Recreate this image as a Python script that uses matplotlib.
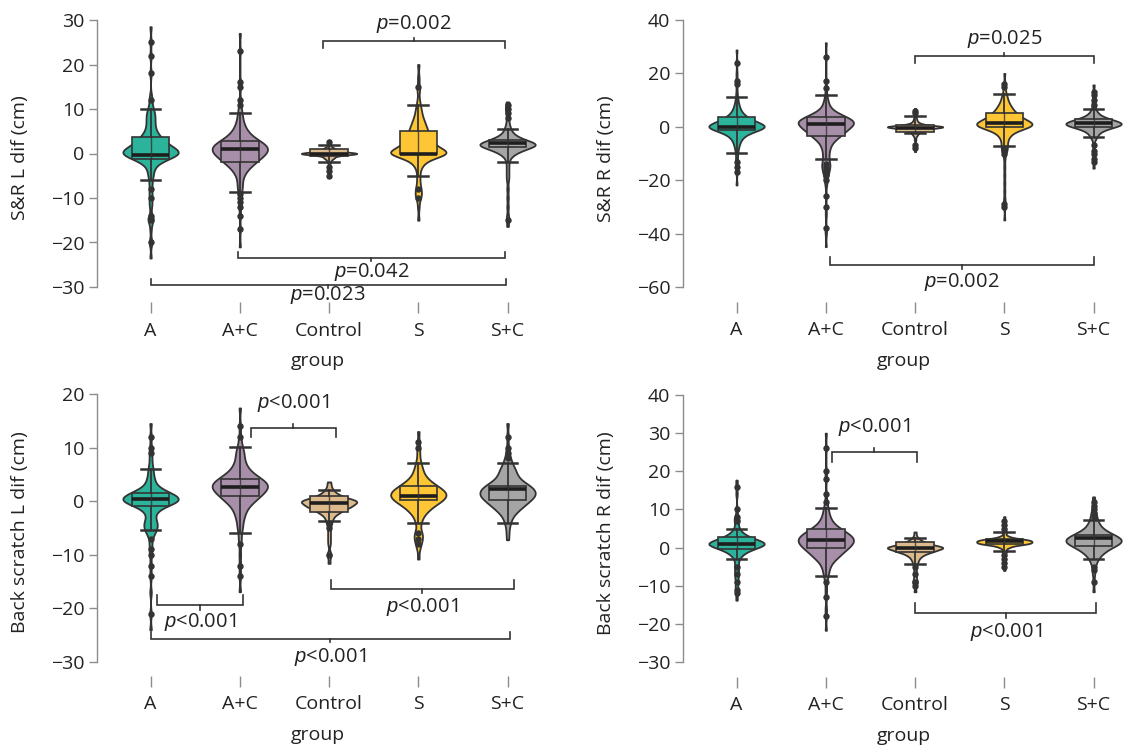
import numpy as np
import matplotlib
matplotlib.use("Agg")
import matplotlib.pyplot as plt

plt.rcParams["font.family"] = ["Open Sans", "DejaVu Sans"]
plt.rcParams["mathtext.fontset"] = "custom"
plt.rcParams["mathtext.it"] = "Liberation Sans:italic"
plt.rcParams["mathtext.rm"] = "Liberation Sans"

groups = ["A", "A+C", "Control", "S", "S+C"]
colors = ["#2bb39b", "#a88fa9", "#dcba8c", "#fec534", "#a5a5a5"]

# ---------------- S&R L dif ----------------
srl_A = [(-23.5,1),(-20,2),(-17,1),(-15,2),(-14.5,2),(-12,1),(-11,1),(-10,1),(-9,1),(-8,1),(-7,1),(-6,1),
         (-5,2),(-4,2),(-3,3),(-2,6),(-1,14),(0,22),(1,18),(2,12),(3,9),(4,6),(5,4),(6,3),(7,3),(8,3),
         (9,3),(10,2),(11,1),(12,1),(13,1),(18,1),(22,1),(25,1),(28.5,1)]
srl_AC = [(-21,1),(-17,1),(-14,1),(-12,1),(-11,1),(-10,1),(-9,1),(-8,2),(-7,2),(-6,2),(-5,3),(-4,5),
          (-3,8),(-2,12),(-1,16),(0,20),(1,22),(2,20),(3,14),(4,9),(5,6),(6,4),(7,3),(8,2),(9,2),
          (10,1),(11,1),(12,1),(15,1),(16,1),(23,1),(27,1)]
srl_C = [(-5,1),(-4,1),(-3,1),(-2,2),(-1.5,2),(-1,6),(-0.5,6),(0,40),(0.5,6),(1,8),(1.5,2),(2,2),
         (2.5,1),(3,1)]
srl_S = [(-15,1),(-12,1),(-10,2),(-9,2),(-8,2),(-7,1),(-6,1),(-5,1),(-4,1),(-3,2),(-2,4),(-1,8),
         (0,24),(1,14),(2,10),(3,8),(4,7),(5,6),(6,5),(7,4),(8,3),(9,2),(10,2),(11,1),(12,1),(14,1),
         (15,1),(17,1),(20,1)]
srl_SC = [(-16.4,1),(-15,1),(-14,1),(-12,1),(-10,1),(-8,1),(-6,1),(-5,1),(-4,1),(-3,1),(-2,1),(-1,2),
          (0,6),(1,14),(2,26),(3,14),(4,6),(5,3),(6,2),(7,1),(8,1),(9,1),(10,2),(11,1),(11.6,1)]
srl_q1 = [-1.2, -2.0, -0.6, 0.0, 1.5]
srl_med = [-0.3, 1.0, 0.0, 0.0, 2.3]
srl_q3 = [3.6, 2.8, 1.0, 5.0, 3.0]
srl_lo = [-6.0, -8.6, -2.0, -5.0, -2.0]
srl_hi = [10.0, 9.0, 2.0, 11.0, 5.5]
srl_out = [[12, 18, 22, 25, -8, -10, -14, -15, -20], [11, 12, 15, 16, 23, -9, -10, -11, -12, -14, -17],
           [2.5, -3, -4, -5], [15, -8, -10], [8, 9, 10, 11, -15]]

# ---------------- S&R R dif ----------------
srr_A = [(-21.8,1),(-17,1),(-15,1),(-13,1),(-12,1),(-10,1),(-9,1),(-8,1),(-7,2),(-6,2),(-5,3),(-4,4),
         (-3,6),(-2,10),(-1,16),(0,24),(1,18),(2,12),(3,9),(4,6),(5,4),(6,3),(7,2),(8,2),(9,1),(10,1),
         (11,1),(13,1),(16,1),(17,1),(20,1),(24,1),(28.8,1)]
srr_AC = [(-44.9,1),(-40,1),(-38,1),(-33,1),(-30,1),(-26,1),(-22,1),(-20,2),(-18,2),(-17,2),(-16,2),
          (-15,3),(-14,3),(-13,2),(-12,2),(-11,2),(-10,2),(-9,2),(-8,3),(-7,3),(-6,4),(-5,6),(-4,8),
          (-3,10),(-2,12),(-1,14),(0,16),(1,18),(2,20),(3,16),(4,12),(5,8),(6,5),(7,3),(8,2),(9,2),
          (10,1),(11,1),(12,1),(14.5,1),(17,1),(26,1),(31.5,1)]
srr_C = [(-9.3,1),(-7,2),(-5,1),(-4,1),(-3,3),(-2,6),(-1,14),(0,40),(1,8),(2,3),(3,2),(4,1),(5,1),(6.9,1)]
srr_S = [(-34.9,1),(-30,1),(-29,1),(-27,1),(-24,1),(-21,1),(-18,1),(-15,1),(-12,1),(-10,1),(-9,2),(-8,2),
         (-7,2),(-6,2),(-5,2),(-4,3),(-3,4),(-2,6),(-1,10),(0,18),(1,22),(2,16),(3,12),(4,10),(5,8),
         (6,6),(7,5),(8,4),(9,3),(10,2),(11,2),(12,2),(14,1),(15,1),(16,1),(20,1)]
srr_SC = [(-15.5,1),(-13,1),(-12,1),(-10,1),(-9,1),(-7,1),(-5,1),(-4,2),(-3,3),(-2,4),(-1,8),(0,14),
          (1,22),(2,16),(3,10),(4,5),(5,3),(6,2),(7,1),(8,1),(9,1),(10,1),(12,1),(13,1),(15.7,1)]
srr_q1 = [-1.2, -3.3, -1.8, -0.2, -0.2]
srr_med = [0.0, 1.0, -0.5, 1.6, 1.3]
srr_q3 = [3.8, 3.6, 0.7, 5.1, 2.9]
srr_lo = [-9.9, -12.1, -2.5, -7.2, -4.0]
srr_hi = [11.0, 11.9, 4.0, 12.2, 6.5]
srr_out = [[16, 17, 24, -13, -15, -17], [14.5, 17, 26, -14, -15, -16, -17, -18, -20, -26, -30, -38],
           [5, 6, -7, -8], [15, 16, -8, -9, -10, -29, -30], [8, 10, 12, 13, -7, -9, -10, -12, -13]]

# ---------------- Back scratch L dif ----------------
bsl_A = [(-24,1),(-21,1),(-17,1),(-14,1),(-12,1),(-10,1),(-9,1),(-8,1),(-7,1),(-6,3),(-5,5),(-4,5),
         (-3,3),(-2,4),(-1,10),(0,22),(1,20),(2,10),(3,4),(4,3),(5,2),(6,2),(7,1),(8,1),(9,1),(10,1),
         (12,1),(14.5,1)]
bsl_AC = [(-16.9,1),(-14,1),(-12,1),(-10,1),(-8,1),(-7,1),(-6,1),(-5,2),(-4,2),(-3,3),(-2,4),(-1,6),
          (0,10),(1,14),(2,18),(3,20),(4,16),(5,10),(6,6),(7,4),(8,3),(9,3),(10,2),(11,1),(12,1),
          (14,1),(17.4,1)]
bsl_C = [(-11.6,1),(-10,2),(-8,1),(-7,1),(-6,1),(-5,1),(-4,2),(-3,3),(-2,8),(-1,16),(0,22),(1,8),
         (2,3),(3,1),(3.6,1)]
bsl_S = [(-10.8,1),(-9,1),(-8,2),(-7,3),(-6,3),(-5,1),(-4,2),(-3,3),(-2,6),(-1,10),(0,16),(1,20),
         (2,18),(3,12),(4,7),(5,4),(6,3),(7,2),(8,1),(9,1),(10,1),(11,1),(13,1)]
bsl_SC = [(-7.2,1),(-6,1),(-5,1),(-4,2),(-3,3),(-2,6),(-1,10),(0,14),(1,18),(2,18),(3,14),(4,8),
          (5,6),(6,5),(7,3),(8,2),(9,1),(10,1),(12,1),(14.5,1)]
bsl_q1 = [-0.9, 0.9, -2.0, 0.2, 0.2]
bsl_med = [0.4, 2.6, -0.3, 1.0, 2.2]
bsl_q3 = [1.5, 4.1, 1.0, 2.9, 2.8]
bsl_lo = [-5.4, -5.9, -3.7, -4.0, -4.0]
bsl_hi = [6.0, 10.1, 2.0, 7.2, 7.1]
bsl_out = [[9, 10, 12, -7, -9, -10, -12, -14, -21], [12, 14, -8, -12, -14], [-4, -5, -10],
           [10, 11, -6, -7, -8], [8, 9, 10, 12]]

# ---------------- Back scratch R dif ----------------
bsr_A = [(-13.8,1),(-12,1),(-11,1),(-10,1),(-9,1),(-8,1),(-7,2),(-6,1),(-5,2),(-4,1),(-3,2),(-2,4),
         (-1,8),(0,16),(1,26),(2,16),(3,8),(4,4),(5,2),(6,1),(7,2),(8,2),(10,1),(14,1),(16,1),(17.7,1)]
bsr_AC = [(-21.7,1),(-18,1),(-16,1),(-13,1),(-11,1),(-9,1),(-8,1),(-7,2),(-6,2),(-5,3),(-4,4),(-3,7),
          (-2,10),(-1,12),(0,16),(1,18),(2,20),(3,18),(4,14),(5,10),(6,6),(7,4),(8,3),(9,2),(10,2),
          (11,1),(12,1),(14,1),(18,1),(20,1),(26,1),(30,1)]
bsr_C = [(-11.6,1),(-10,1),(-9,2),(-8,1),(-7,1),(-6,1),(-5,1),(-4,2),(-3,3),(-2,6),(-1,14),(0,24),
         (1,10),(2,4),(3,1),(4.1,1)]
bsr_S = [(-6,1),(-5,1),(-4,2),(-3,2),(-2,2),(-1,3),(0,4),(0.5,6),(1,20),(1.5,20),(2,20),(2.5,6),
         (3,3),(4,3),(5,2),(6,2),(7,1),(8.1,1)]
bsr_SC = [(-11.6,1),(-9,1),(-7,1),(-6,1),(-5,1),(-4,2),(-3,3),(-2,5),(-1,8),(0,12),(1,18),(2,20),
          (3,16),(4,10),(5,6),(6,4),(7,3),(8,2),(9,2),(10,1),(11,1),(12,1),(13.3,1)]
bsr_q1 = [-0.3, -0.2, -1.1, 1.0, 0.4]
bsr_med = [1.0, 1.9, 0.0, 1.7, 2.4]
bsr_q3 = [2.8, 5.0, 1.5, 2.3, 3.3]
bsr_lo = [-3.1, -7.5, -4.2, -1.0, -3.1]
bsr_hi = [5.0, 10.5, 2.5, 4.0, 7.2]
bsr_out = [[7, 8, 10, 16, -5, -7, -9, -11, -12], [12, 14, 18, 20, 26, -9, -13, -18], [-5, -7, -9, -10],
           [5, 6, 7, -2, -3, -4, -5], [8, 9, 10, 11, 12, -5, -6, -9]]

# kernel bandwidths (cm) per group
srl_bw = [0.9, 0.9, 0.3, 0.9, 0.7]
srr_bw = [1.2, 1.3, 0.5, 1.2, 0.9]
bsl_bw = [0.75, 0.8, 0.55, 0.75, 0.75]
bsr_bw = [0.8, 1.0, 0.55, 0.35, 0.85]

# significance annotations: (x1, x2, y, end length, text y, text)
srl_sig = [(1.93, 3.97, 25.3, -1.6, 29.1, "$p$=0.002"),
           (0.98, 3.97, -23.5, 1.3, -26.6, "$p$=0.042"),
           (0.0, 3.98, -29.6, 1.3, -31.8, "$p$=0.023")]
srr_sig = [(2.0, 4.0, 26.5, -2.6, 32.9, "$p$=0.025"),
           (1.05, 4.0, -51.8, 3.0, -58.0, "$p$=0.002")]
bsl_sig = [(1.12, 2.08, 13.7, -1.7, 18.3, "$p$<0.001"),
           (0.07, 1.04, -19.4, 1.9, -22.5, "$p$<0.001"),
           (2.02, 4.07, -16.4, 1.7, -19.7, "$p$<0.001"),
           (0.0, 4.03, -25.7, 1.3, -29.0, "$p$<0.001")]
bsr_sig = [(1.07, 2.02, 25.0, -2.6, 31.6, "$p$<0.001"),
           (2.0, 4.03, -17.2, 2.6, -22.2, "$p$<0.001")]

W, H = 1126, 750
fig = plt.figure(figsize=(W / 100, H / 100), dpi=100)
DARK = "#333333"
AX_GREY = "#8c8c8c"
XLIM = (-0.6, 4.35)
SPACING = 89.25


def make_axes(left_px, v_hi, p_hi, v_lo, p_lo, ylim):
    ppu = (p_lo - p_hi) / (v_hi - v_lo)
    top_px = p_hi - (ylim[1] - v_hi) * ppu
    bot_px = p_lo + (v_lo - ylim[0]) * ppu
    width_px = (XLIM[1] - XLIM[0]) * SPACING
    ax = fig.add_axes([left_px / W, 1 - bot_px / H, width_px / W, (bot_px - top_px) / H])
    ax.set_xlim(*XLIM)
    ax.set_ylim(*ylim)
    return ax


def draw_panel(ax, samples, bws, q1, med, q3, lo, hi, outs, sigs, yticks, ylabel):
    for i, (pairs, bw) in enumerate(zip(samples, bws)):
        vals = np.array([p[0] for p in pairs], dtype=float)
        cnts = np.array([p[1] for p in pairs], dtype=int)
        data = np.repeat(vals, cnts)
        parts = ax.violinplot([data], positions=[i], widths=0.62, showextrema=False, points=400,
                              bw_method=lambda k, s=bw: s / np.std(k.dataset, ddof=1))
        for b in parts["bodies"]:
            b.set_facecolor(colors[i])
            b.set_edgecolor(DARK)
            b.set_linewidth(1.3)
            b.set_alpha(1)
            b.set_zorder(1)
        stats = [dict(med=med[i], q1=q1[i], q3=q3[i], whislo=lo[i], whishi=hi[i], fliers=outs[i])]
        ax.bxp(stats, positions=[i], widths=0.42, capwidths=0.22, patch_artist=True, manage_ticks=False,
               boxprops=dict(facecolor=colors[i], edgecolor=DARK, linewidth=1.2),
               medianprops=dict(color="#1e1e1e", linewidth=2.6),
               whiskerprops=dict(color=DARK, linewidth=1.3),
               capprops=dict(color=DARK, linewidth=1.8),
               flierprops=dict(marker="o", markerfacecolor=DARK, markeredgecolor=DARK, markersize=3.6))
        ax.vlines(i, q1[i], q3[i], color=DARK, linewidth=1.0, alpha=0.8, zorder=2.5)
    for x1, x2, y, h, ty, txt in sigs:
        ax.plot([x1, x1, x2, x2], [y + h, y, y, y + h], color=DARK, lw=1.2, zorder=4,
                solid_joinstyle="miter")
        mid = (x1 + x2) / 2
        ax.plot([mid, mid], [y, y - 0.45 * h], color=DARK, lw=1.2, zorder=4)
        ax.text(mid, ty, txt, ha="center", va="center", fontsize=14.5, color="#222222", zorder=5)
    ax.set_yticks(yticks)
    ax.set_xticks(range(len(groups)))
    ax.set_xticklabels(groups)
    for s in ("top", "right", "bottom"):
        ax.spines[s].set_visible(False)
    ax.spines["left"].set_bounds(min(yticks), max(yticks))
    ax.spines["left"].set_color(AX_GREY)
    ax.spines["left"].set_linewidth(1.0)
    ax.tick_params(axis="y", length=6, width=1.0, color=AX_GREY, labelsize=14, labelcolor="#222222", pad=3)
    ax.tick_params(axis="x", length=8, width=1.0, color=AX_GREY, labelsize=14, labelcolor="#222222", pad=6)
    ax.set_ylabel(ylabel, fontsize=14, color="#222222")
    ax.yaxis.set_label_coords(-68 / ((XLIM[1] - XLIM[0]) * SPACING), 0.5)
    ax.set_xlabel("group", fontsize=14, color="#222222", labelpad=9)
    ax.patch.set_alpha(0)


ax1 = make_axes(97, 30, 20, -30, 287, (-33.4, 31.5))
draw_panel(ax1, [srl_A, srl_AC, srl_C, srl_S, srl_SC], srl_bw, srl_q1, srl_med, srl_q3, srl_lo, srl_hi,
           srl_out, srl_sig, [-30, -20, -10, 0, 10, 20, 30], "S&R L dif (cm)")

ax2 = make_axes(683, 40, 20, -60, 287, (-65.6, 42.0))
draw_panel(ax2, [srr_A, srr_AC, srr_C, srr_S, srr_SC], srr_bw, srr_q1, srr_med, srr_q3, srr_lo, srr_hi,
           srr_out, srr_sig, [-60, -40, -20, 0, 20, 40], "S&R R dif (cm)")

ax3 = make_axes(97, 20, 394, -30, 662, (-32.6, 21.0))
draw_panel(ax3, [bsl_A, bsl_AC, bsl_C, bsl_S, bsl_SC], bsl_bw, bsl_q1, bsl_med, bsl_q3, bsl_lo, bsl_hi,
           bsl_out, bsl_sig, [-30, -20, -10, 0, 10, 20], "Back scratch L dif (cm)")

ax4 = make_axes(683, 40, 395, -30, 662, (-33.9, 41.5))
draw_panel(ax4, [bsr_A, bsr_AC, bsr_C, bsr_S, bsr_SC], bsr_bw, bsr_q1, bsr_med, bsr_q3, bsr_lo, bsr_hi,
           bsr_out, bsr_sig, [-30, -20, -10, 0, 10, 20, 30, 40], "Back scratch R dif (cm)")

fig.savefig("out.png", dpi=100, facecolor="white")
